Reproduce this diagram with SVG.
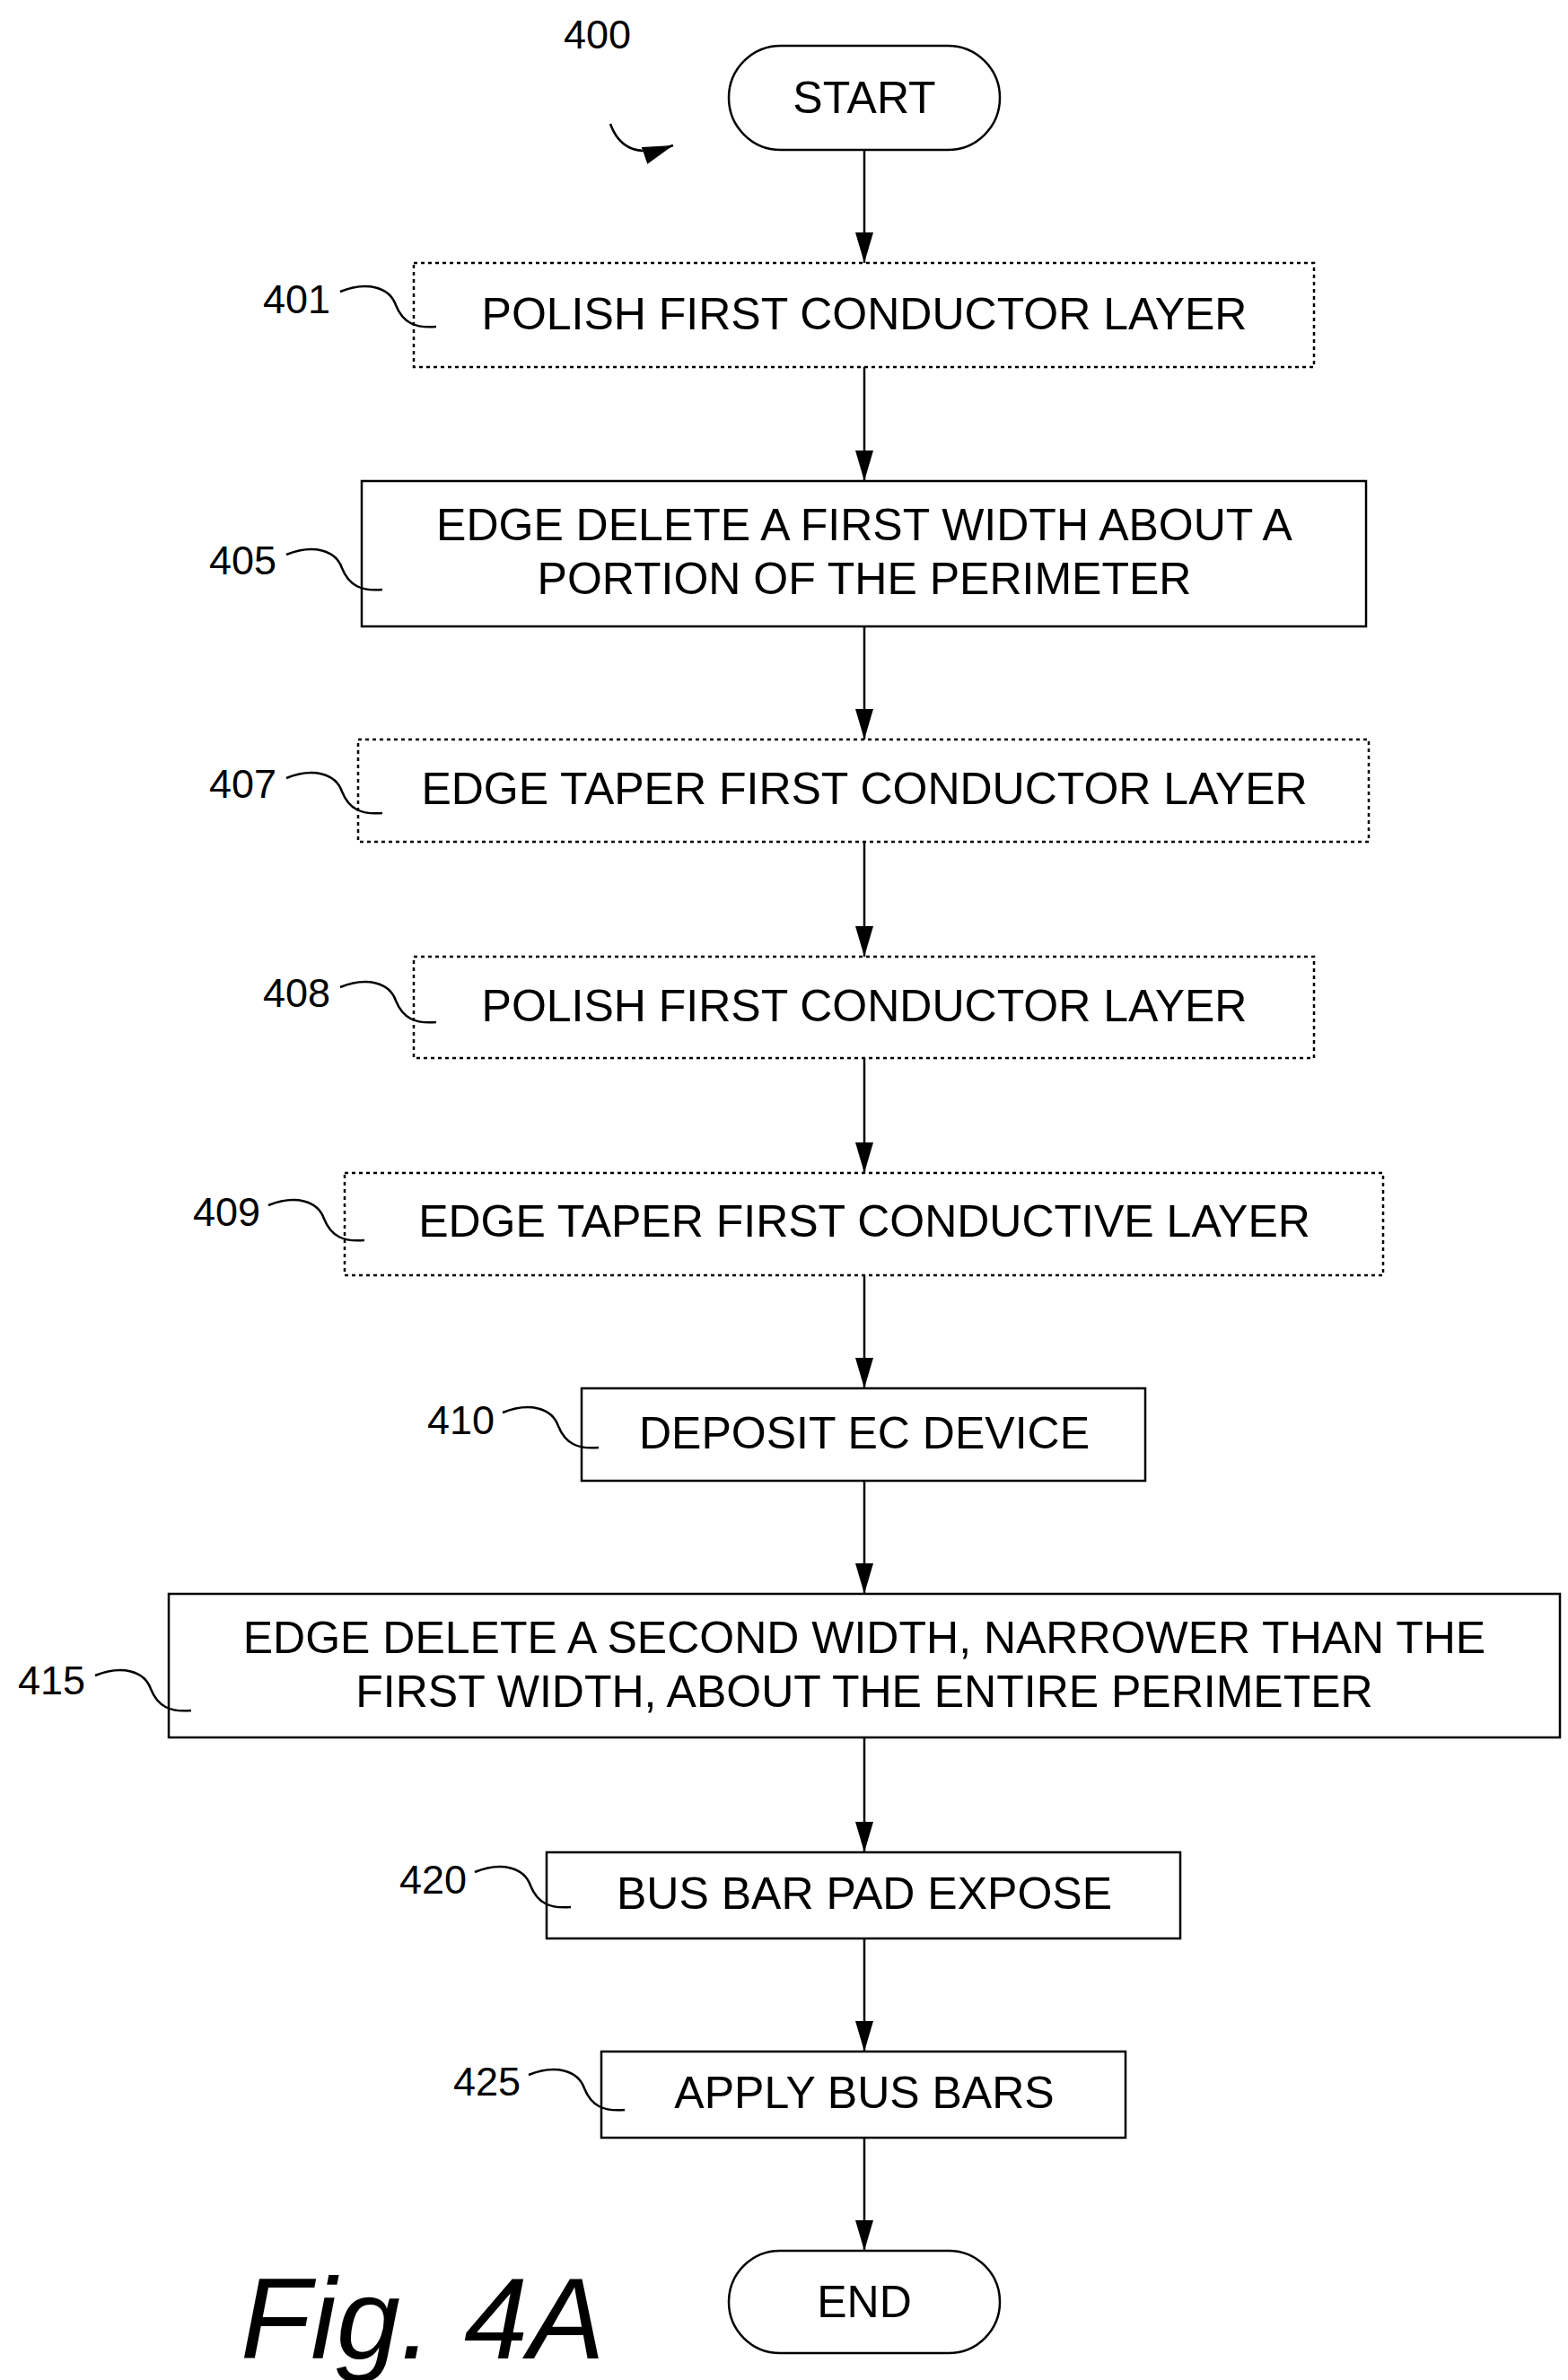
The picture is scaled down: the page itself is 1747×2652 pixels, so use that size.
<svg xmlns="http://www.w3.org/2000/svg" width="1747" height="2652" viewBox="0 0 1747 2652">
<defs>
<marker id="ah" markerWidth="34" markerHeight="20" refX="34" refY="10" orient="auto" markerUnits="userSpaceOnUse" viewBox="0 0 34 20"><path d="M0,0 L34,10 L0,20 z" fill="#000"/></marker>
<path id="sq" d="M0,0 c30,-12 55,-5 62,15 c8,20 22,26 45,24" fill="none" stroke="#000" stroke-width="2.5"/>
</defs>
<style>
.b{fill:#fff;stroke:#000;stroke-width:2.5}
.d{fill:#fff;stroke:#000;stroke-width:2.5;stroke-dasharray:4 4}
.t{font-family:"Liberation Sans",Arial,sans-serif;font-size:50px;text-anchor:middle;dominant-baseline:central}
.l{font-family:"Liberation Sans",Arial,sans-serif;font-size:45px;dominant-baseline:central}
.c{fill:none;stroke:#000;stroke-width:2.5}
</style>
<rect width="1747" height="2652" fill="#fff"/>
<g id="connectors">
<line class="c" x1="963" y1="167" x2="963" y2="293" marker-end="url(#ah)"/>
<line class="c" x1="963" y1="409" x2="963" y2="536" marker-end="url(#ah)"/>
<line class="c" x1="963" y1="698" x2="963" y2="824" marker-end="url(#ah)"/>
<line class="c" x1="963" y1="938" x2="963" y2="1066" marker-end="url(#ah)"/>
<line class="c" x1="963" y1="1179" x2="963" y2="1307" marker-end="url(#ah)"/>
<line class="c" x1="963" y1="1421" x2="963" y2="1547" marker-end="url(#ah)"/>
<line class="c" x1="963" y1="1650" x2="963" y2="1776" marker-end="url(#ah)"/>
<line class="c" x1="963" y1="1936" x2="963" y2="2064" marker-end="url(#ah)"/>
<line class="c" x1="963" y1="2160" x2="963" y2="2286" marker-end="url(#ah)"/>
<line class="c" x1="963" y1="2382" x2="963" y2="2508" marker-end="url(#ah)"/>
<path class="c" d="M680,138 C688,160 705,178 750,162" marker-end="url(#ah)"/>
</g>
<g id="n400"><text class="l" x="628" y="38">400</text></g>
<g id="start"><rect class="b" x="812" y="51" width="302" height="116" rx="58"/><text class="t" x="963" y="109">START</text></g>
<g id="n401"><rect class="d" x="461" y="293" width="1003" height="116"/><text class="t" x="963" y="350">POLISH FIRST CONDUCTOR LAYER</text><text class="l" x="293" y="333">401</text><use href="#sq" x="379" y="325"/></g>
<g id="n405"><rect class="b" x="403" y="536" width="1119" height="162"/><text class="t" x="963" y="585">EDGE DELETE A FIRST WIDTH ABOUT A</text><text class="t" x="963" y="645">PORTION OF THE PERIMETER</text><text class="l" x="233" y="624">405</text><use href="#sq" x="319" y="618"/></g>
<g id="n407"><rect class="d" x="399" y="824" width="1126" height="114"/><text class="t" x="963" y="879">EDGE TAPER FIRST CONDUCTOR LAYER</text><text class="l" x="233" y="873">407</text><use href="#sq" x="319" y="867"/></g>
<g id="n408"><rect class="d" x="461" y="1066" width="1003" height="113"/><text class="t" x="963" y="1121">POLISH FIRST CONDUCTOR LAYER</text><text class="l" x="293" y="1106">408</text><use href="#sq" x="379" y="1100"/></g>
<g id="n409"><rect class="d" x="384" y="1307" width="1157" height="114"/><text class="t" x="963" y="1361">EDGE TAPER FIRST CONDUCTIVE LAYER</text><text class="l" x="215" y="1350">409</text><use href="#sq" x="299" y="1343"/></g>
<g id="n410"><rect class="b" x="648" y="1547" width="628" height="103"/><text class="t" x="963" y="1597">DEPOSIT EC DEVICE</text><text class="l" x="476" y="1582">410</text><use href="#sq" x="560" y="1574"/></g>
<g id="n415"><rect class="b" x="188" y="1776" width="1550" height="160"/><text class="t" x="963" y="1825">EDGE DELETE A SECOND WIDTH, NARROWER THAN THE</text><text class="t" x="963" y="1885">FIRST WIDTH, ABOUT THE ENTIRE PERIMETER</text><text class="l" x="20" y="1872">415</text><use href="#sq" x="106" y="1867"/></g>
<g id="n420"><rect class="b" x="609" y="2064" width="706" height="96"/><text class="t" x="963" y="2110">BUS BAR PAD EXPOSE</text><text class="l" x="445" y="2094">420</text><use href="#sq" x="529" y="2086"/></g>
<g id="n425"><rect class="b" x="670" y="2286" width="584" height="96"/><text class="t" x="963" y="2332">APPLY BUS BARS</text><text class="l" x="505" y="2319">425</text><use href="#sq" x="589" y="2312"/></g>
<g id="end"><rect class="b" x="812" y="2508" width="302" height="114" rx="57"/><text class="t" x="963" y="2565">END</text></g>
<text x="268" y="2628" font-family="Liberation Sans,Arial,sans-serif" font-style="italic" font-size="128">Fig. 4A</text>
</svg>
